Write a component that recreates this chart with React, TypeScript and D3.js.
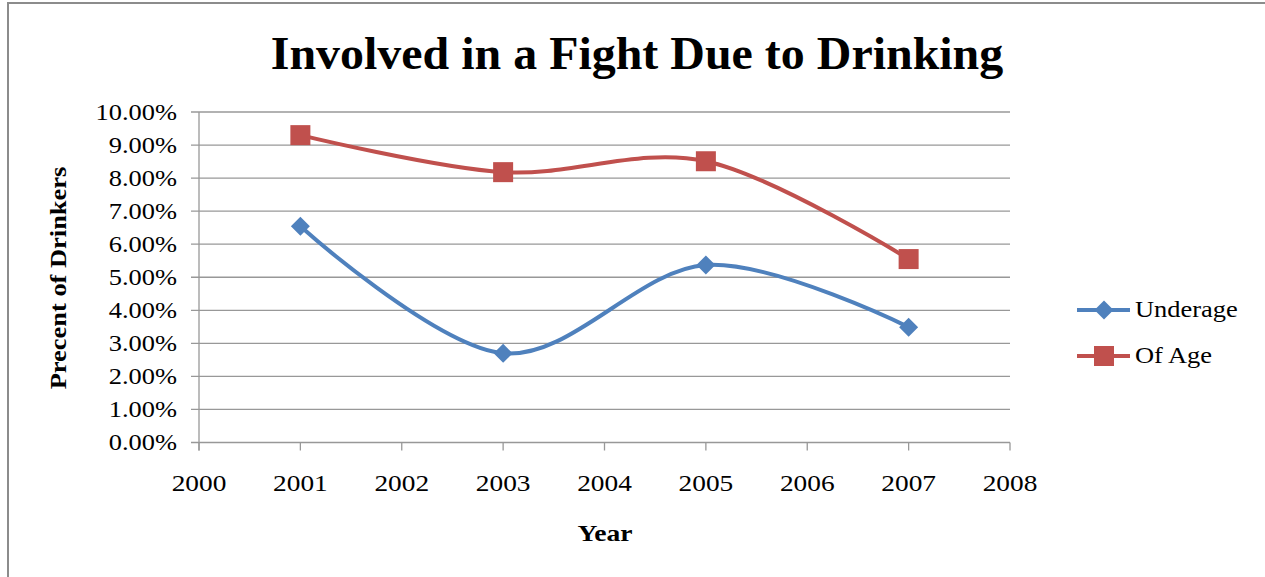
import React from "react";
import * as d3 from "d3";

const years = [2001, 2003, 2005, 2007];
const underage = [0.0654, 0.027, 0.0537, 0.0349];
const ofAge = [0.093, 0.0818, 0.0851, 0.0555];
const yTicks = [0, 0.01, 0.02, 0.03, 0.04, 0.05, 0.06, 0.07, 0.08, 0.09, 0.1];
const xTicks = [2000, 2001, 2002, 2003, 2004, 2005, 2006, 2007, 2008];

const W = 1265;
const H = 577;
const BLUE = "#4F81BD";
const RED = "#C0504D";
const GRID = "#989898";
const FONT = "'Liberation Serif', 'Times New Roman', serif";
const SX = 1.15;

type TProps = {
  x: number;
  y: number;
  rotate?: number;
  sx?: number;
  anchor?: "start" | "middle" | "end";
  size: number;
  bold?: boolean;
  children: React.ReactNode;
};

// Text widened along its baseline, like the chart's rendered labels
function WideText({ x, y, rotate = 0, sx = SX, anchor = "start", size, bold, children }: TProps) {
  return (
    <g transform={`translate(${x},${y}) rotate(${rotate}) scale(${sx},1)`}>
      <text x={0} y={0} textAnchor={anchor} fontSize={size} fontWeight={bold ? "bold" : "normal"}>
        {children}
      </text>
    </g>
  );
}

export default function App() {
  const x = d3.scaleLinear().domain([2000, 2008]).range([199, 1010]);
  const y = d3.scaleLinear().domain([0, 0.1]).range([442.5, 112]);
  const line = d3
    .line<[number, number]>()
    .x((d) => x(d[0]))
    .y((d) => y(d[1]))
    .curve(d3.curveCatmullRom.alpha(0));

  const pts = (vals: number[]) => years.map((yr, i) => [yr, vals[i]] as [number, number]);
  const diamond = (cx: number, cy: number, r: number) =>
    `M${cx},${cy - r}L${cx + r},${cy}L${cx},${cy + r}L${cx - r},${cy}Z`;

  return (
    <svg
      width={W}
      height={H}
      style={{ position: "fixed", left: 0, top: 0, background: "#fff" }}
      fontFamily={FONT}
    >
      <rect x={8} y={3} width={1270} height={600} fill="#fff" stroke="#8c8c8c" strokeWidth={2} />
      <WideText x={637} y={69} anchor="middle" size={47} sx={1.02} bold>
        Involved in a Fight Due to Drinking
      </WideText>

      {yTicks.map((t) => (
        <g key={t}>
          <line x1={191} x2={x(2008)} y1={y(t)} y2={y(t)} stroke={GRID} strokeWidth={1.3} />
          <WideText x={177} y={y(t) + 7.5} anchor="end" size={23}>
            {(t * 100).toFixed(2)}%
          </WideText>
        </g>
      ))}
      <line x1={x(2000)} x2={x(2000)} y1={y(0.1)} y2={y(0) + 8} stroke={GRID} strokeWidth={1.3} />
      {xTicks.map((t) => (
        <g key={t}>
          <line x1={x(t)} x2={x(t)} y1={y(0)} y2={y(0) + 8} stroke={GRID} strokeWidth={1.3} />
          <WideText x={x(t)} y={491} anchor="middle" size={24} sx={1.14}>
            {t}
          </WideText>
        </g>
      ))}

      <WideText x={66} y={278} rotate={-90} anchor="middle" size={23} bold>
        Precent of Drinkers
      </WideText>
      <WideText x={605} y={541} anchor="middle" size={24} bold>
        Year
      </WideText>

      <path d={line(pts(underage)) ?? ""} fill="none" stroke={BLUE} strokeWidth={4} />
      <path d={line(pts(ofAge)) ?? ""} fill="none" stroke={RED} strokeWidth={4} />
      {years.map((yr, i) => (
        <path key={"u" + yr} d={diamond(x(yr), y(underage[i]), 9.5)} fill={BLUE} />
      ))}
      {years.map((yr, i) => (
        <rect
          key={"o" + yr}
          x={x(yr) - 10}
          y={y(ofAge[i]) - 10}
          width={20}
          height={20}
          fill={RED}
        />
      ))}

      <line x1={1077} x2={1130} y1={310} y2={310} stroke={BLUE} strokeWidth={4} />
      <path d={diamond(1104, 310, 9.5)} fill={BLUE} />
      <WideText x={1135} y={317} size={23}>
        Underage
      </WideText>
      <line x1={1077} x2={1130} y1={356} y2={356} stroke={RED} strokeWidth={4} />
      <rect x={1094} y={346} width={20} height={20} fill={RED} />
      <WideText x={1135} y={363} size={23}>
        Of Age
      </WideText>
    </svg>
  );
}
